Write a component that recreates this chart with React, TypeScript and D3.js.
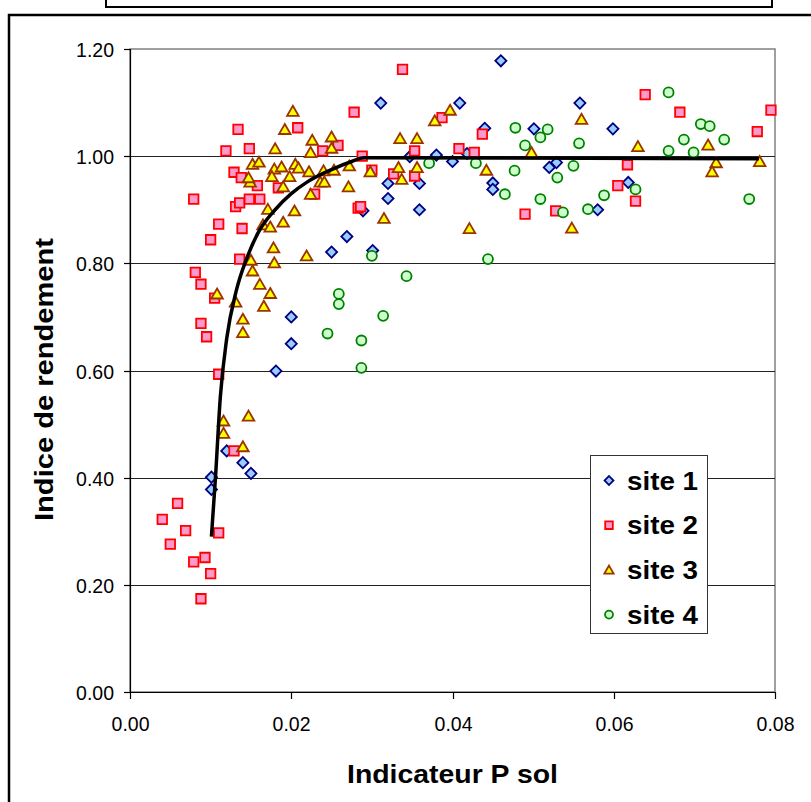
import React from "react";
import * as d3 from "d3";

// site data: [Indicateur P sol, Indice de rendement]
const site1: [number, number][] = [
  [0.025, 0.821], [0.0269, 0.85], [0.02, 0.7], [0.02, 0.65], [0.0181, 0.599],
  [0.012, 0.45], [0.014, 0.428], [0.015, 0.408], [0.0101, 0.401], [0.0101, 0.378],
  [0.046, 1.178], [0.0311, 1.099], [0.0409, 1.099], [0.044, 1.052], [0.0501, 1.051],
  [0.0347, 0.999], [0.038, 1.002], [0.04, 0.99], [0.0418, 1.005], [0.032, 0.949],
  [0.0359, 0.949], [0.045, 0.95], [0.045, 0.938], [0.052, 0.979], [0.0529, 0.988],
  [0.032, 0.921], [0.0289, 0.898], [0.0359, 0.9], [0.0301, 0.824], [0.0558, 1.099],
  [0.0599, 1.051], [0.0618, 0.951], [0.058, 0.9],
];

const site2: [number, number][] = [
  [0.0134, 1.05], [0.0208, 1.053], [0.0119, 1.01], [0.0148, 1.014], [0.0239, 1.01],
  [0.0258, 1.02], [0.0278, 1.082], [0.0129, 0.97], [0.0138, 0.96], [0.0158, 0.945],
  [0.0184, 0.941], [0.0229, 0.929], [0.0079, 0.92], [0.0131, 0.906], [0.0136, 0.913],
  [0.0148, 0.92], [0.0161, 0.92], [0.011, 0.873], [0.0139, 0.865], [0.01, 0.844],
  [0.0136, 0.808], [0.0081, 0.783], [0.0088, 0.761], [0.0105, 0.735], [0.0088, 0.688],
  [0.0095, 0.663], [0.011, 0.593], [0.0129, 0.45], [0.0059, 0.352], [0.004, 0.322],
  [0.0069, 0.301], [0.011, 0.297], [0.005, 0.276], [0.0079, 0.243], [0.0093, 0.251],
  [0.01, 0.221], [0.0088, 0.174], [0.0338, 1.162], [0.0387, 1.072], [0.0437, 1.041],
  [0.0353, 1.01], [0.0408, 1.014], [0.0427, 1.007], [0.0288, 1.0], [0.03, 0.974],
  [0.0327, 0.967], [0.0353, 0.963], [0.0283, 0.903], [0.0286, 0.906], [0.049, 0.892],
  [0.0528, 0.898], [0.0639, 1.115], [0.0682, 1.082], [0.0795, 1.086], [0.0778, 1.046],
  [0.0617, 0.984], [0.0605, 0.945], [0.0627, 0.916],
];

const site3: [number, number][] = [
  [0.0202, 1.084], [0.0192, 1.05], [0.018, 1.014], [0.0226, 1.03], [0.025, 1.036],
  [0.025, 1.015], [0.0224, 1.007], [0.0152, 0.985], [0.016, 0.989], [0.0149, 0.952],
  [0.0147, 0.96], [0.0179, 0.976], [0.0188, 0.98], [0.0205, 0.985], [0.0209, 0.978],
  [0.0176, 0.962], [0.0198, 0.962], [0.0222, 0.971], [0.024, 0.973], [0.0253, 0.974],
  [0.0236, 0.952], [0.0241, 0.952], [0.019, 0.943], [0.0271, 0.943], [0.0224, 0.929],
  [0.0171, 0.901], [0.0204, 0.898], [0.0165, 0.872], [0.0174, 0.868], [0.019, 0.877],
  [0.0178, 0.829], [0.0219, 0.814], [0.015, 0.806], [0.0179, 0.801], [0.0152, 0.786],
  [0.0161, 0.761], [0.0174, 0.744], [0.0108, 0.743], [0.0131, 0.728], [0.0166, 0.72],
  [0.014, 0.696], [0.014, 0.671], [0.0116, 0.506], [0.0147, 0.515], [0.0116, 0.483],
  [0.014, 0.458], [0.0397, 1.086], [0.0378, 1.066], [0.0498, 1.007], [0.0335, 1.033],
  [0.0356, 1.033], [0.0272, 0.982], [0.0298, 0.971], [0.0333, 0.979], [0.0356, 0.979],
  [0.0337, 0.957], [0.0442, 0.974], [0.0315, 0.884], [0.0421, 0.865], [0.056, 1.069],
  [0.063, 1.018], [0.0717, 1.021], [0.0727, 0.988], [0.0722, 0.971], [0.0781, 0.99],
  [0.0548, 0.866],
];

const site4: [number, number][] = [
  [0.0259, 0.743], [0.0259, 0.724], [0.0245, 0.669], [0.0478, 1.053], [0.0518, 1.05],
  [0.0509, 1.035], [0.049, 1.02], [0.0371, 0.987], [0.0429, 0.987], [0.0477, 0.973],
  [0.053, 0.96], [0.0465, 0.929], [0.0509, 0.92], [0.03, 0.814], [0.0444, 0.808],
  [0.0343, 0.776], [0.0314, 0.702], [0.0287, 0.656], [0.0287, 0.605], [0.0668, 1.119],
  [0.0708, 1.06], [0.0719, 1.056], [0.0737, 1.031], [0.0687, 1.031], [0.0557, 1.024],
  [0.0668, 1.01], [0.0699, 1.007], [0.055, 0.982], [0.0627, 0.938], [0.0588, 0.927],
  [0.0537, 0.895], [0.0568, 0.901], [0.0768, 0.92],
];

// fitted response curve
const curve: [number, number][] = [
  [0.0101, 0.29], [0.0106, 0.4], [0.0112, 0.55], [0.012, 0.66], [0.0132, 0.75],
  [0.0145, 0.81], [0.016, 0.86], [0.018, 0.9], [0.02, 0.93], [0.022, 0.952],
  [0.025, 0.975], [0.0275, 0.99], [0.029, 0.997], [0.078, 0.995],
];

const xTicks = [0, 0.02, 0.04, 0.06, 0.08];
const yTicks = [0, 0.2, 0.4, 0.6, 0.8, 1.0, 1.2];
const siteNames = ["site 1", "site 2", "site 3", "site 4"];

const PLOT = { left: 130, right: 775, top: 49, bottom: 692 };
const FONT = "Arial, 'Liberation Sans', sans-serif";

const STYLES = [
  { fill: "#99CCFF", stroke: "#000080" },
  { fill: "#FF99CC", stroke: "#FF0000" },
  { fill: "#FFFF00", stroke: "#993300" },
  { fill: "#CCFFCC", stroke: "#008000" },
];

function markerPath(kind: number, scale = 1) {
  if (kind === 0) return d3.symbol(d3.symbolSquare, 62 * scale * scale)()!;
  if (kind === 1) return d3.symbol(d3.symbolSquare, 90 * scale * scale)()!;
  if (kind === 2) return d3.symbol(d3.symbolTriangle, 58 * scale * scale)()!;
  return d3.symbol(d3.symbolCircle, 78 * scale * scale)()!;
}

function Marker({ kind, x, y, scale = 1 }: { kind: number; x: number; y: number; scale?: number }) {
  const st = STYLES[kind];
  const rot = kind === 0 ? " rotate(45)" : "";
  const dy = kind === 2 ? 1.3 * scale : 0;
  return (
    <path
      d={markerPath(kind, scale)}
      transform={`translate(${x},${y + dy})${rot}`}
      fill={st.fill}
      stroke={st.stroke}
      strokeWidth={1.8}
    />
  );
}

export default function App() {
  const x = d3.scaleLinear().domain([0, 0.08]).range([PLOT.left, PLOT.right]);
  const y = d3.scaleLinear().domain([0, 1.2]).range([PLOT.bottom, PLOT.top]);
  const line = d3
    .line<[number, number]>()
    .x((d) => x(d[0]))
    .y((d) => y(d[1]))
    .curve(d3.curveMonotoneX);

  const sites = [site1, site2, site3, site4];
  const legend = { x: 590, y: 455, w: 117, h: 178 };

  return (
    <svg
      width={811}
      height={802}
      style={{ position: "absolute", left: 0, top: 0, background: "#fff" }}
      fontFamily={FONT}
    >
      <rect x={0} y={0} width={811} height={802} fill="#fff" />
      {/* title box (cut off at the top) */}
      <rect x={106} y={-10} width={666} height={17} fill="none" stroke="#000" strokeWidth={2} />
      {/* chart frame */}
      <rect x={9} y={15} width={830} height={820} fill="none" stroke="#000" strokeWidth={2.5} />

      {/* plot area border */}
      <rect
        x={PLOT.left}
        y={PLOT.top}
        width={PLOT.right - PLOT.left}
        height={PLOT.bottom - PLOT.top}
        fill="none"
        stroke="#808080"
        strokeWidth={1.5}
      />

      {/* gridlines */}
      {yTicks.slice(1, -1).map((t) => (
        <line
          key={t}
          x1={PLOT.left}
          x2={PLOT.right}
          y1={Math.round(y(t)) + 0.5}
          y2={Math.round(y(t)) + 0.5}
          stroke="#222"
          strokeWidth={1}
        />
      ))}

      {/* y axis */}
      <line x1={PLOT.left + 0.5} x2={PLOT.left + 0.5} y1={PLOT.top} y2={PLOT.bottom} stroke="#000" strokeWidth={1.2} />
      {yTicks.map((t) => (
        <g key={t} transform={`translate(0,${Math.round(y(t)) + 0.5})`}>
          <line x1={PLOT.left - 6} x2={PLOT.left} stroke="#000" strokeWidth={1.2} />
          <text x={PLOT.left - 16} dy="0.36em" textAnchor="end" fontSize={19.5}>
            {d3.format(".2f")(t)}
          </text>
        </g>
      ))}

      {/* x axis */}
      <line x1={PLOT.left} x2={PLOT.right} y1={PLOT.bottom + 0.5} y2={PLOT.bottom + 0.5} stroke="#000" strokeWidth={1.2} />
      {xTicks.map((t) => (
        <g key={t} transform={`translate(${Math.round(x(t)) + 0.5},0)`}>
          <line y1={PLOT.bottom} y2={PLOT.bottom + 7} stroke="#000" strokeWidth={1.2} />
          <text y={PLOT.bottom + 39} textAnchor="middle" fontSize={19.5}>
            {d3.format(".2f")(t)}
          </text>
        </g>
      ))}

      {/* axis titles */}
      <text
        x={347}
        y={783}
        fontSize={25}
        fontWeight="bold"
        textLength={211}
        lengthAdjust="spacingAndGlyphs"
      >
        Indicateur P sol
      </text>
      <text
        transform={`translate(53,521) rotate(-90)`}
        fontSize={25}
        fontWeight="bold"
        textLength={283}
        lengthAdjust="spacingAndGlyphs"
      >
        Indice de rendement
      </text>

      {/* points */}
      {sites.map((pts, k) => (
        <g key={k}>
          {pts.map((d, i) => (
            <Marker key={i} kind={k} x={x(d[0])} y={y(d[1])} />
          ))}
        </g>
      ))}

      {/* response curve */}
      <path d={line(curve)!} fill="none" stroke="#000" strokeWidth={3.5} strokeLinejoin="round" />

      {/* legend */}
      <rect x={legend.x + 0.5} y={legend.y + 0.5} width={legend.w} height={legend.h} fill="#fff" stroke="#333" strokeWidth={1} />
      {siteNames.map((name, i) => {
        const cy = legend.y + 25.5 + i * 44.7;
        return (
          <g key={name}>
            <Marker kind={i} x={legend.x + 19} y={cy} scale={0.8} />
            <text
              x={legend.x + 37}
              y={cy}
              dy="0.36em"
              fontSize={25}
              fontWeight="bold"
              textLength={71}
              lengthAdjust="spacingAndGlyphs"
            >
              {name}
            </text>
          </g>
        );
      })}
    </svg>
  );
}
